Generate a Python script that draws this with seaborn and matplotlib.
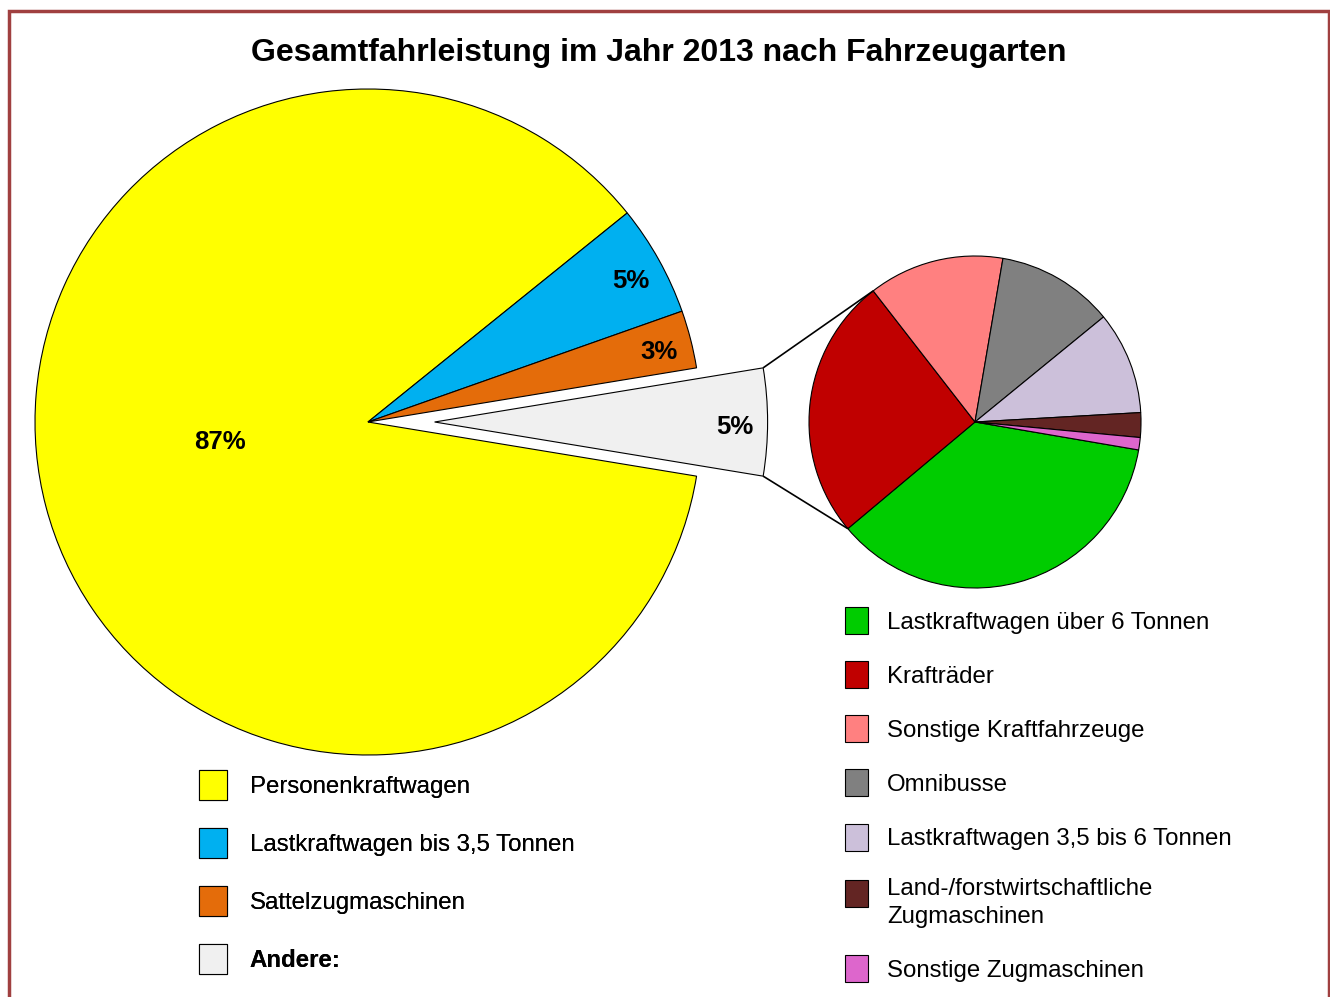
import numpy as np
import matplotlib
matplotlib.use("Agg")
import matplotlib.pyplot as plt
import seaborn as sns
from matplotlib.patches import Rectangle
from matplotlib.legend_handler import HandlerPatch

# ---------------- data ----------------
title = "Gesamtfahrleistung im Jahr 2013 nach Fahrzeugarten"

main_labels = ["Personenkraftwagen", "Lastkraftwagen bis 3,5 Tonnen",
               "Sattelzugmaschinen", "Andere:"]
main_values = [86.6, 5.4, 2.8, 5.2]
main_pct_labels = ["87%", "5%", "3%", "5%"]
main_colors = ["#FFFF00", "#00B0F0", "#E46C0A", "#F0F0F0"]

sub_labels = ["Lastkraftwagen über 6 Tonnen", "Krafträder",
              "Sonstige Kraftfahrzeuge", "Omnibusse",
              "Lastkraftwagen 3,5 bis 6 Tonnen",
              "Land-/forstwirtschaftliche\nZugmaschinen",
              "Sonstige Zugmaschinen"]
sub_values = [36.2, 25.6, 13.2, 11.4, 10.0, 2.4, 1.2]
sub_colors = ["#00CC00", "#C00000", "#FF8080", "#808080",
              "#CCC0DA", "#632523", "#DD66CC"]

# ---------------- style ----------------
sns.set_theme(style="white")
plt.rcParams['font.family'] = ['Liberation Sans', 'DejaVu Sans']
plt.rcParams['text.color'] = 'black'

W, H = 1330, 997
fig = plt.figure(figsize=(W / 100, H / 100), dpi=100)
ax = fig.add_axes([0, 0, 1, 1])


def Y(ypx):
    return H - ypx


R_main, c_main = 333, (368, Y(422))
R_sub, c_sub = 166, (975, Y(422))
edge = dict(edgecolor="black", linewidth=0.8)

andere_deg = main_values[3] / sum(main_values) * 360
wedges_main, _, autotexts = ax.pie(
    main_values, colors=main_colors, radius=R_main, center=c_main,
    startangle=-andere_deg / 2, counterclock=False,
    explode=[0, 0, 0, 0.2 * R_main], autopct="%.0f%%", pctdistance=0.9,
    wedgeprops=edge, frame=True,
    textprops=dict(fontsize=18.5, fontweight="bold", color="black"))
for t, s in zip(autotexts, main_pct_labels):
    t.set_text(s)
    x, y = t.get_position()
    t.set_position((x + 1, y - 5))
# large slice label placed nearer the centre
ang = np.deg2rad(187)
autotexts[0].set_position((c_main[0] + 0.45 * R_main * np.cos(ang) + 1,
                           c_main[1] + 0.45 * R_main * np.sin(ang) - 2))

wedges_sub, _ = ax.pie(
    sub_values, colors=sub_colors, radius=R_sub, center=c_sub,
    startangle=-9.7, counterclock=False, wedgeprops=edge, frame=True)

ax.set_xlim(0, W)
ax.set_ylim(0, H)
ax.axis("off")

# connector lines
wa = wedges_main[3]
wr = wedges_sub[1]


def pt(w, deg):
    return (w.center[0] + w.r * np.cos(np.deg2rad(deg)),
            w.center[1] + w.r * np.sin(np.deg2rad(deg)))


for a_deg, s_deg in [(max(wa.theta1, wa.theta2), wr.theta1),
                     (min(wa.theta1, wa.theta2), wr.theta2)]:
    p1, p2 = pt(wa, a_deg), pt(wr, s_deg)
    ax.plot([p1[0], p2[0]], [p1[1], p2[1]], color="black", lw=1.2,
            solid_capstyle="butt")

# title
fig.text(659 / W, 1 - 53 / H, title, ha="center", va="center",
         fontsize=23, fontweight="bold", color="black")

# legends
fs = 17.3
fpx = fs * 100 / 72


def hh_for(px):
    return (px / fpx - 0.245) / 0.65


def top_aligned(legend, orig_handle, xdescent, ydescent, width, height,
                fontsize):
    return Rectangle((-xdescent, -ydescent + 7.4), width, height)


leg1 = fig.legend(wedges_main, main_labels, loc="upper left",
                  bbox_to_anchor=(199 / W, 1 - 770 / H), frameon=False,
                  fontsize=fs, handlelength=28 / fpx, handleheight=hh_for(30),
                  handletextpad=0.95, labelspacing=1.17, borderpad=0,
                  borderaxespad=0, labelcolor="black")
leg1.get_texts()[3].set_fontweight("bold")
leg2 = fig.legend(wedges_sub, sub_labels, loc="upper left",
                  bbox_to_anchor=(845 / W, 1 - 607 / H), frameon=False,
                  fontsize=fs, handlelength=23 / fpx, handleheight=hh_for(27),
                  handletextpad=0.8, labelspacing=1.13, borderpad=0,
                  borderaxespad=0, labelcolor="black",
                  handler_map={wedges_sub[5]: HandlerPatch(patch_func=top_aligned)})
leg2.get_texts()[5].set_linespacing(1.38)
fig.add_artist(leg1)

# outer frame
ax.add_patch(Rectangle((9, -60), 1329 - 9, Y(11.5) + 60, fill=False,
                       edgecolor="#A04040", linewidth=2.5, clip_on=False))

fig.savefig("out.png", dpi=100)
